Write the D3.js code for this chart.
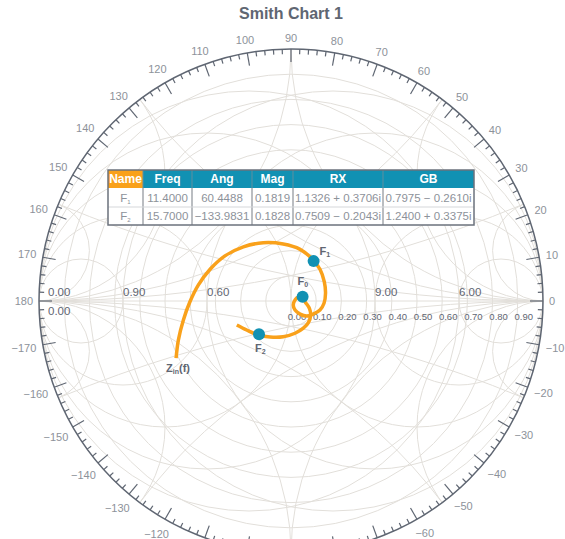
<!DOCTYPE html>
<html>
<head>
<meta charset="utf-8">
<script src="https://cdn.jsdelivr.net/npm/d3@7"></script>
<style>
body { margin: 0; background: #fff; }
svg { display: block; font-family: "Helvetica Neue", Helvetica, "Liberation Sans", Arial, sans-serif; }
</style>
</head>
<body>
<svg id="chart" width="565" height="539"></svg>
<script>
// grid values
const gridMag = [0.1, 0.2, 0.3, 0.4, 0.5, 0.6, 0.7, 0.8, 0.9];
const gridRes = [0.2, 0.5, 1, 2, 5];
const gridReact = [0.2, 0.5, 1, 2, 5];
const axisRes = [0, 0.2, 0.5, 2, 5];
const axisResText = ["0.00", "0.90", "0.60", "9.00", "6.00"];
const magLabels = [0, 0.1, 0.2, 0.3, 0.4, 0.5, 0.6, 0.7, 0.8, 0.9];

// table
const names = ["1", "2"];
const freq = [11.4, 15.7];
const ang = [60.4488, -133.9831];
const mag = [0.1819, 0.1828];
const rxRe = [1.1326, 0.7509], rxIm = [0.3706, -0.2043];
const gbRe = [0.7975, 1.2400], gbIm = [-0.2610, 0.3375];
const headers = ["Name", "Freq", "Ang", "Mag", "RX", "GB"];

// F0 point
const f0Re = 0.046, f0Im = 0.017;

// Zin(f) trace, reflection coefficient
const traceRe = [-0.456, -0.447, -0.427, -0.401, -0.368, -0.321, -0.262, -0.189, -0.110, -0.031, 0.036, 0.086,
  0.115, 0.132, 0.137, 0.131, 0.115, 0.088, 0.062, 0.036, 0.016, 0.009, 0.016, 0.029, 0.046,
  0.056, 0.073, 0.078, 0.069, 0.049, 0.016, -0.031, -0.083, -0.130, -0.176, -0.215];
const traceIm = [-0.227, -0.155, -0.075, -0.003, 0.063, 0.126, 0.179, 0.215, 0.231, 0.226, 0.205, 0.165,
  0.126, 0.077, 0.031, -0.009, -0.036, -0.052, -0.060, -0.052, -0.036, -0.016, 0.004, 0.015, 0.017,
  -0.003, -0.029, -0.056, -0.086, -0.108, -0.128, -0.142, -0.143, -0.135, -0.115, -0.095];

const cx = 291, cy = 301, R = 252;
const grisOscuro = "#5f6672", grisClaro = "#8d929a", rejilla = "#e2dfda";
const naranja = "#f9a11b", azul = "#1191b3";
const alto = 539;

const svg = d3.select("#chart");
const x = d3.scaleLinear().domain([-1, 1]).range([cx - R, cx + R]);
const y = d3.scaleLinear().domain([-1, 1]).range([cy + R, cy - R]);
const k = R; // unit length in px

svg.append("text")
  .attr("x", 291).attr("y", 19)
  .attr("text-anchor", "middle")
  .attr("font-size", 16).attr("font-weight", "bold")
  .attr("fill", grisOscuro)
  .text("Smith Chart 1");

svg.append("clipPath").attr("id", "unidad")
  .append("circle").attr("cx", x(0)).attr("cy", y(0)).attr("r", k);

const grid = svg.append("g").attr("clip-path", "url(#unidad)")
  .attr("fill", "none").attr("stroke", rejilla).attr("stroke-width", 1);

const circulos = [];
gridMag.forEach(m => circulos.push([0, 0, m]));
gridRes.forEach(r => {
  circulos.push([r / (1 + r), 0, 1 / (1 + r)]);
  circulos.push([-r / (1 + r), 0, 1 / (1 + r)]);
});
gridReact.forEach(v => {
  [1, -1].forEach(s => {
    circulos.push([1, s / v, 1 / v]);
    circulos.push([-1, s / v, 1 / v]);
  });
});
grid.selectAll("circle").data(circulos).join("circle")
  .attr("cx", d => x(d[0])).attr("cy", d => y(d[1])).attr("r", d => d[2] * k);
grid.append("line")
  .attr("x1", x(-1)).attr("x2", x(1)).attr("y1", y(0)).attr("y2", y(0));

// outer angle scale
svg.append("circle")
  .attr("cx", x(0)).attr("cy", y(0)).attr("r", k)
  .attr("fill", "none").attr("stroke", grisOscuro).attr("stroke-width", 1.5);

const grados = d3.range(-178, 181, 2);
svg.append("g").selectAll("line").data(grados).join("line")
  .each(function (d) {
    const a = d * Math.PI / 180;
    const largo = d % 10 === 0 ? 13 : 5;
    d3.select(this)
      .attr("x1", x(Math.cos(a))).attr("y1", y(Math.sin(a)))
      .attr("x2", x(Math.cos(a)) - largo * Math.cos(a))
      .attr("y2", y(Math.sin(a)) + largo * Math.sin(a));
  })
  .attr("stroke", grisOscuro).attr("stroke-width", 1.2);

const fmtAng = d3.format("d");
const etiquetasAng = d3.range(-170, 181, 10);
svg.append("g").selectAll("text").data(etiquetasAng).join("text")
  .attr("font-size", 11).attr("fill", grisClaro)
  .attr("text-anchor", "middle").attr("dominant-baseline", "central")
  .text(d => fmtAng(d))
  .each(function (d) {
    const a = d * Math.PI / 180;
    const w = this.getComputedTextLength();
    const off = 6 + Math.abs(Math.cos(a)) * w / 2 + Math.abs(Math.sin(a)) * 5.5;
    const ty = y(Math.sin(a)) - off * Math.sin(a);
    // labels that fall below the picture are dropped
    if (ty > alto - 4) { d3.select(this).remove(); return; }
    d3.select(this)
      .attr("x", x(Math.cos(a)) + off * Math.cos(a))
      .attr("y", ty);
  });

// axis labels
const ejeTxt = svg.append("g").attr("fill", grisOscuro);
ejeTxt.selectAll("text.res").data(axisRes).join("text")
  .attr("class", "res")
  .attr("x", d => Math.max(x((d - 1) / (d + 1)), x(-1) + 9))
  .attr("y", y(0) - 5)
  .attr("font-size", 11.5)
  .text((d, i) => axisResText[i]);
ejeTxt.append("text")
  .attr("x", x(-1) + 9).attr("y", y(0) + 14)
  .attr("font-size", 11.5)
  .text(axisResText[0]);
ejeTxt.selectAll("text.mag").data(magLabels).join("text")
  .attr("class", "mag")
  .attr("x", d => x(d) + 6).attr("y", y(0) + 18.5)
  .attr("text-anchor", "middle")
  .attr("font-size", 9.5)
  .text(d => d3.format(".2f")(d));

// trace
const traza = traceRe.map((re, i) => [re, traceIm[i]]);
svg.append("path")
  .datum(traza)
  .attr("d", d3.line().x(d => x(d[0])).y(d => y(d[1])).curve(d3.curveCatmullRom))
  .attr("fill", "none").attr("stroke", naranja).attr("stroke-width", 3.5)
  .attr("stroke-linecap", "butt");

const puntos = [
  { n: "0", re: f0Re, im: f0Im, dx: -5, dy: -12 },
  { n: names[0], re: mag[0] * Math.cos(ang[0] * Math.PI / 180), im: mag[0] * Math.sin(ang[0] * Math.PI / 180), dx: 6, dy: -6 },
  { n: names[1], re: mag[1] * Math.cos(ang[1] * Math.PI / 180), im: mag[1] * Math.sin(ang[1] * Math.PI / 180), dx: -4, dy: 18 }
];
svg.append("g").selectAll("circle").data(puntos).join("circle")
  .attr("cx", d => x(d.re)).attr("cy", d => y(d.im)).attr("r", 6)
  .attr("fill", azul);

const etq = svg.append("g").attr("fill", grisOscuro).attr("font-weight", "bold");
puntos.forEach(p => {
  const t = etq.append("text")
    .attr("x", x(p.re) + p.dx).attr("y", y(p.im) + p.dy)
    .attr("font-size", 11);
  t.append("tspan").text("F");
  t.append("tspan").attr("font-size", 7).attr("dy", 2).text(p.n);
});
const zin = etq.append("text")
  .attr("x", x(traceRe[0]) - 10).attr("y", y(traceIm[0]) + 14)
  .attr("font-size", 11);
zin.append("tspan").text("Z");
zin.append("tspan").attr("font-size", 7).attr("dy", 2).text("in");
zin.append("tspan").attr("dy", -2).text("(f)");

// table
const fmt4 = d3.format(".4f");
const complejo = (re, im) => fmt4(re) + (im < 0 ? " − " : " + ") + fmt4(Math.abs(im)) + "i";
const filas = names.map((n, i) => [n, fmt4(freq[i]), fmt4(ang[i]), fmt4(mag[i]),
  complejo(rxRe[i], rxIm[i]), complejo(gbRe[i], gbIm[i])]);

const colX = [108, 143, 192, 252, 293, 383, 474];
const filaY = [170, 188, 207, 225];
const tabla = svg.append("g");

tabla.append("rect")
  .attr("x", colX[0]).attr("y", filaY[0])
  .attr("width", colX[6] - colX[0]).attr("height", filaY[3] - filaY[0])
  .attr("fill", "#fff");
tabla.selectAll("rect.cab").data(headers).join("rect")
  .attr("class", "cab")
  .attr("x", (d, i) => colX[i]).attr("y", filaY[0])
  .attr("width", (d, i) => colX[i + 1] - colX[i]).attr("height", filaY[1] - filaY[0])
  .attr("fill", (d, i) => i === 0 ? naranja : azul);
tabla.selectAll("text.cab").data(headers).join("text")
  .attr("class", "cab")
  .attr("x", (d, i) => (colX[i] + colX[i + 1]) / 2).attr("y", filaY[1] - 5)
  .attr("text-anchor", "middle")
  .attr("font-size", 12).attr("font-weight", "bold").attr("fill", "#fff")
  .text(d => d);

filas.forEach((fila, j) => {
  fila.forEach((v, i) => {
    const t = tabla.append("text")
      .attr("x", (colX[i] + colX[i + 1]) / 2).attr("y", filaY[j + 2] - 5)
      .attr("text-anchor", "middle")
      .attr("font-size", 11.5).attr("fill", grisClaro);
    if (i === 0) {
      t.append("tspan").text("F");
      t.append("tspan").attr("font-size", 6).attr("dy", 2).text(v);
    } else {
      t.text(v);
    }
  });
});

const bordes = tabla.append("g").attr("stroke", "#a3a7ac").attr("stroke-width", 1.5);
colX.slice(1, 6).forEach(cxl => bordes.append("line")
  .attr("x1", cxl).attr("x2", cxl).attr("y1", filaY[1]).attr("y2", filaY[3]));
bordes.append("line").attr("x1", colX[0]).attr("x2", colX[6])
  .attr("y1", filaY[2]).attr("y2", filaY[2]).attr("stroke", "#d5d7da").attr("stroke-width", 1);
colX.slice(1, 6).forEach(cxl => bordes.append("line")
  .attr("x1", cxl).attr("x2", cxl).attr("y1", filaY[0]).attr("y2", filaY[1])
  .attr("stroke", "#5f8fa0").attr("stroke-width", 1));
tabla.append("rect")
  .attr("x", colX[0]).attr("y", filaY[0])
  .attr("width", colX[6] - colX[0]).attr("height", filaY[3] - filaY[0])
  .attr("fill", "none").attr("stroke", "#6b727c").attr("stroke-width", 1.5);
</script>
</body>
</html>
